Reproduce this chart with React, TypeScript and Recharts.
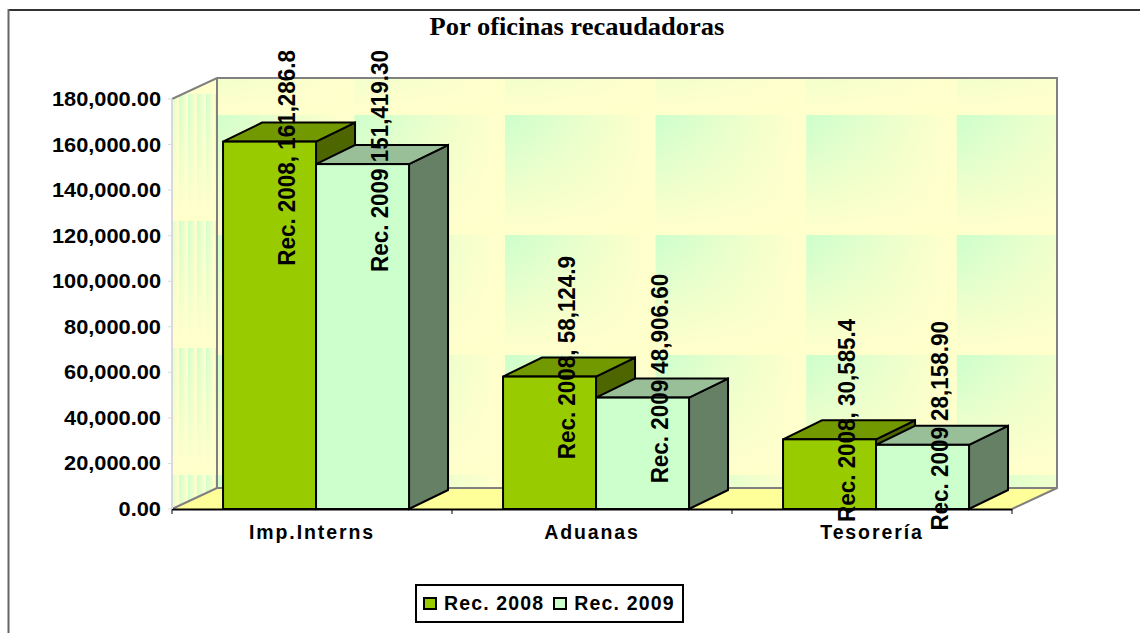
import React from "react";
import { BarChart, Bar, XAxis, YAxis, Legend, LabelList } from "recharts";

const categories = ["Imp.Interns", "Aduanas", "Tesorería"];
const rec2008 = [161286.8, 58124.9, 30585.4];
const rec2009 = [151419.3, 48906.6, 28158.9];
const yTicks = [0, 20000, 40000, 60000, 80000, 100000, 120000, 140000, 160000, 180000];
const chartTitle = "Por oficinas recaudadoras";

const data = categories.map((name, i) => ({ name, rec2008: rec2008[i], rec2009: rec2009[i] }));

const W = 1140, H = 633;
const L = 172, R = 1012, T = 99, B = 509;
const LEGEND_H = 39;
const WALL_DX = 45, WALL_DY = 21;
const BAR_DX = 39, BAR_DY = 19, BAR_SHIFT = 4;
const SANS = "'Liberation Sans', Arial, sans-serif";

const fmt = (v: number, d: number) =>
  v.toLocaleString("en-US", { minimumFractionDigits: d, maximumFractionDigits: d });

function Backdrop() {
  const tw = 150.6, th = 120;
  return (
    <g>
      <defs>
        <linearGradient id="hFade" x1="0" x2="1" y1="0" y2="0">
          <stop offset="0" stopColor="#CCFFCC" stopOpacity="1" />
          <stop offset="0.95" stopColor="#CCFFCC" stopOpacity="0" />
        </linearGradient>
        <linearGradient id="vFadeG" x1="0" x2="0" y1="0" y2="1">
          <stop offset="0" stopColor="#fff" stopOpacity="1" />
          <stop offset="0.45" stopColor="#fff" stopOpacity="0.55" />
          <stop offset="0.95" stopColor="#fff" stopOpacity="0" />
        </linearGradient>
        <mask id="backMask" maskContentUnits="userSpaceOnUse">
          <rect x="0" y="0" width={tw} height={th} fill="url(#vFadeG)" />
        </mask>
        <mask id="sideMask" maskContentUnits="userSpaceOnUse">
          <rect x="0" y="0" width="9" height="127" fill="url(#vFadeG)" />
        </mask>
        <pattern id="backTile" patternUnits="userSpaceOnUse" x={203.8} y={115} width={tw} height={th}>
          <rect width={tw} height={th} fill="#FFFFCC" />
          <rect width={tw} height={th} fill="url(#hFade)" mask="url(#backMask)" />
        </pattern>
        <pattern id="sideTile" patternUnits="userSpaceOnUse" x={170} y={94} width={9} height={127}>
          <rect width={9} height={127} fill="#FFFFCC" />
          <rect width={9} height={127} fill="url(#hFade)" mask="url(#sideMask)" />
        </pattern>
      </defs>
      <line x1={8} y1={10} x2={W} y2={10} stroke="#333" strokeWidth={2} />
      <line x1={8.5} y1={9} x2={8.5} y2={H} stroke="#666" strokeWidth={2} />
      <text
        transform="translate(577,35) scale(1.06,1)"
        textAnchor="middle"
        fontFamily="'Liberation Serif', 'Times New Roman', serif"
        fontWeight={700}
        fontSize={25}
        fill="#000"
      >
        {chartTitle}
      </text>
      <rect x={L + WALL_DX} y={T - WALL_DY} width={R - L} height={B - T} fill="url(#backTile)" />
      <polygon points={`${L},${T} ${L + WALL_DX},${T - WALL_DY} ${L + WALL_DX},${B - WALL_DY} ${L},${B}`} fill="url(#sideTile)" />
      <polygon points={`${L},${B} ${L + WALL_DX},${B - WALL_DY} ${R + WALL_DX},${B - WALL_DY} ${R},${B}`} fill="#FFFF99" />
      <polyline
        points={`${L},${T} ${L + WALL_DX},${T - WALL_DY} ${R + WALL_DX},${T - WALL_DY} ${R + WALL_DX},${B - WALL_DY} ${R},${B}`}
        fill="none" stroke="#808080" strokeWidth={2} />
      <polyline
        points={`${L + WALL_DX},${T - WALL_DY} ${L + WALL_DX},${B - WALL_DY} ${R + WALL_DX},${B - WALL_DY}`}
        fill="none" stroke="#808080" strokeWidth={2} />
      <line x1={L} y1={B} x2={L + WALL_DX} y2={B - WALL_DY} stroke="#808080" strokeWidth={2} />
    </g>
  );
}

function AxisOverlay() {
  const step = (R - L) / categories.length;
  return (
    <g>
      <line x1={L} y1={B + 0.5} x2={R} y2={B + 0.5} stroke="#000" strokeWidth={2} />
      {[...categories, ""].map((_, i) => (
        <line key={i} x1={L + i * step} y1={B} x2={L + i * step} y2={B + 5} stroke="#000" strokeWidth={1} />
      ))}
    </g>
  );
}

const bar3D = (top: string, side: string) => (props: any) => {
  const { x, y, width, height, fill } = props;
  const x0 = x + BAR_SHIFT;
  const x1 = x0 + width;
  const y1 = y + height;
  return (
    <g stroke="#000" strokeWidth={2} strokeLinejoin="miter">
      <polygon points={`${x1},${y} ${x1 + BAR_DX},${y - BAR_DY} ${x1 + BAR_DX},${y1 - BAR_DY} ${x1},${y1}`} fill={side} />
      <polygon points={`${x0},${y} ${x0 + BAR_DX},${y - BAR_DY} ${x1 + BAR_DX},${y - BAR_DY} ${x1},${y}`} fill={top} />
      <rect x={x0} y={y} width={width} height={height} fill={fill} />
    </g>
  );
};

const rotatedLabel = (prefix: string, decimals: number) => (props: any) => {
  const vb = props.viewBox || {};
  const x = props.x ?? vb.x;
  const y = props.y ?? vb.y;
  const tx = x + BAR_SHIFT + 64 + 8;
  const clamped = y < 177;
  const ty = clamped ? 50 : y - 19;
  return (
    <text
      transform={`translate(${tx},${ty}) rotate(-90) scale(0.935,1)`}
      textAnchor={clamped ? "end" : "middle"}
      fontFamily={SANS}
      fontWeight={700}
      fontSize={24}
      fill="#000"
    >
      {prefix + fmt(Number(props.value), decimals)}
    </text>
  );
};

const YTick = (props: any) => {
  const { x, y, payload } = props;
  return (
    <text transform={`translate(${x},${y + 7}) scale(1.09,1)`} textAnchor="end" fontFamily={SANS} fontWeight={700} fontSize={20} fill="#000">
      {fmt(payload.value, 2)}
    </text>
  );
};

const XTick = (props: any) => {
  const { x, y, payload } = props;
  return (
    <text x={x} y={y} textAnchor="middle" fontFamily={SANS} fontWeight={700} fontSize={19.5} letterSpacing={1.9} fill="#000">
      {payload.value}
    </text>
  );
};

const LegendBox = (props: any) => (
  <div
    style={{
      boxSizing: "border-box",
      width: 269,
      height: LEGEND_H,
      border: "2px solid #000",
      background: "#fff",
      display: "flex",
      alignItems: "center",
      paddingLeft: 6,
      fontFamily: SANS,
      fontWeight: 700,
      fontSize: 19.5,
      letterSpacing: 1.15,
      color: "#000",
      whiteSpace: "nowrap",
    }}
  >
    {(props.payload || []).map((p: any) => (
      <span key={p.value} style={{ display: "flex", flex: "none", alignItems: "center", marginRight: 9 }}>
        <span style={{ boxSizing: "border-box", flex: "none", width: 14, height: 13, border: "2px solid #000", background: p.color, marginRight: 7 }} />
        {p.value}
      </span>
    ))}
  </div>
);

export default function App() {
  return (
    <div style={{ position: "absolute", left: 0, top: 0, width: W, height: H, background: "#fff" }}>
      <BarChart
        width={W}
        height={H}
        data={data}
        margin={{ top: T, right: W - R, bottom: 0, left: 0 }}
        barCategoryGap="16.8%"
        barGap={0}
      >
        <Backdrop />
        <YAxis
          width={L}
          domain={[0, 180000]}
          ticks={yTicks}
          interval={0}
          tick={<YTick />}
          tickMargin={7}
          tickSize={4}
          axisLine={{ stroke: "#d9d9d9", strokeWidth: 2 }}
          tickLine={{ stroke: "#d9d9d9" }}
        />
        <XAxis
          dataKey="name"
          height={H - B - LEGEND_H}
          tick={<XTick />}
          tickLine={false}
          axisLine={false}
          tickMargin={24}
          interval={0}
        />
        <AxisOverlay />
        <Bar dataKey="rec2008" name="Rec. 2008" fill="#99CC00" shape={bar3D("#739900", "#4D6600")} isAnimationActive={false}>
          <LabelList dataKey="rec2008" content={rotatedLabel("Rec. 2008, ", 1)} />
        </Bar>
        <Bar dataKey="rec2009" name="Rec. 2009" fill="#CCFFCC" shape={bar3D("#99BF99", "#668066")} isAnimationActive={false}>
          <LabelList dataKey="rec2009" content={rotatedLabel("Rec. 2009 ", 2)} />
        </Bar>
        <Legend
          content={<LegendBox />}
          wrapperStyle={{ position: "absolute", left: 415, top: 584, width: 269, bottom: "auto", right: "auto" }}
        />
      </BarChart>
    </div>
  );
}
